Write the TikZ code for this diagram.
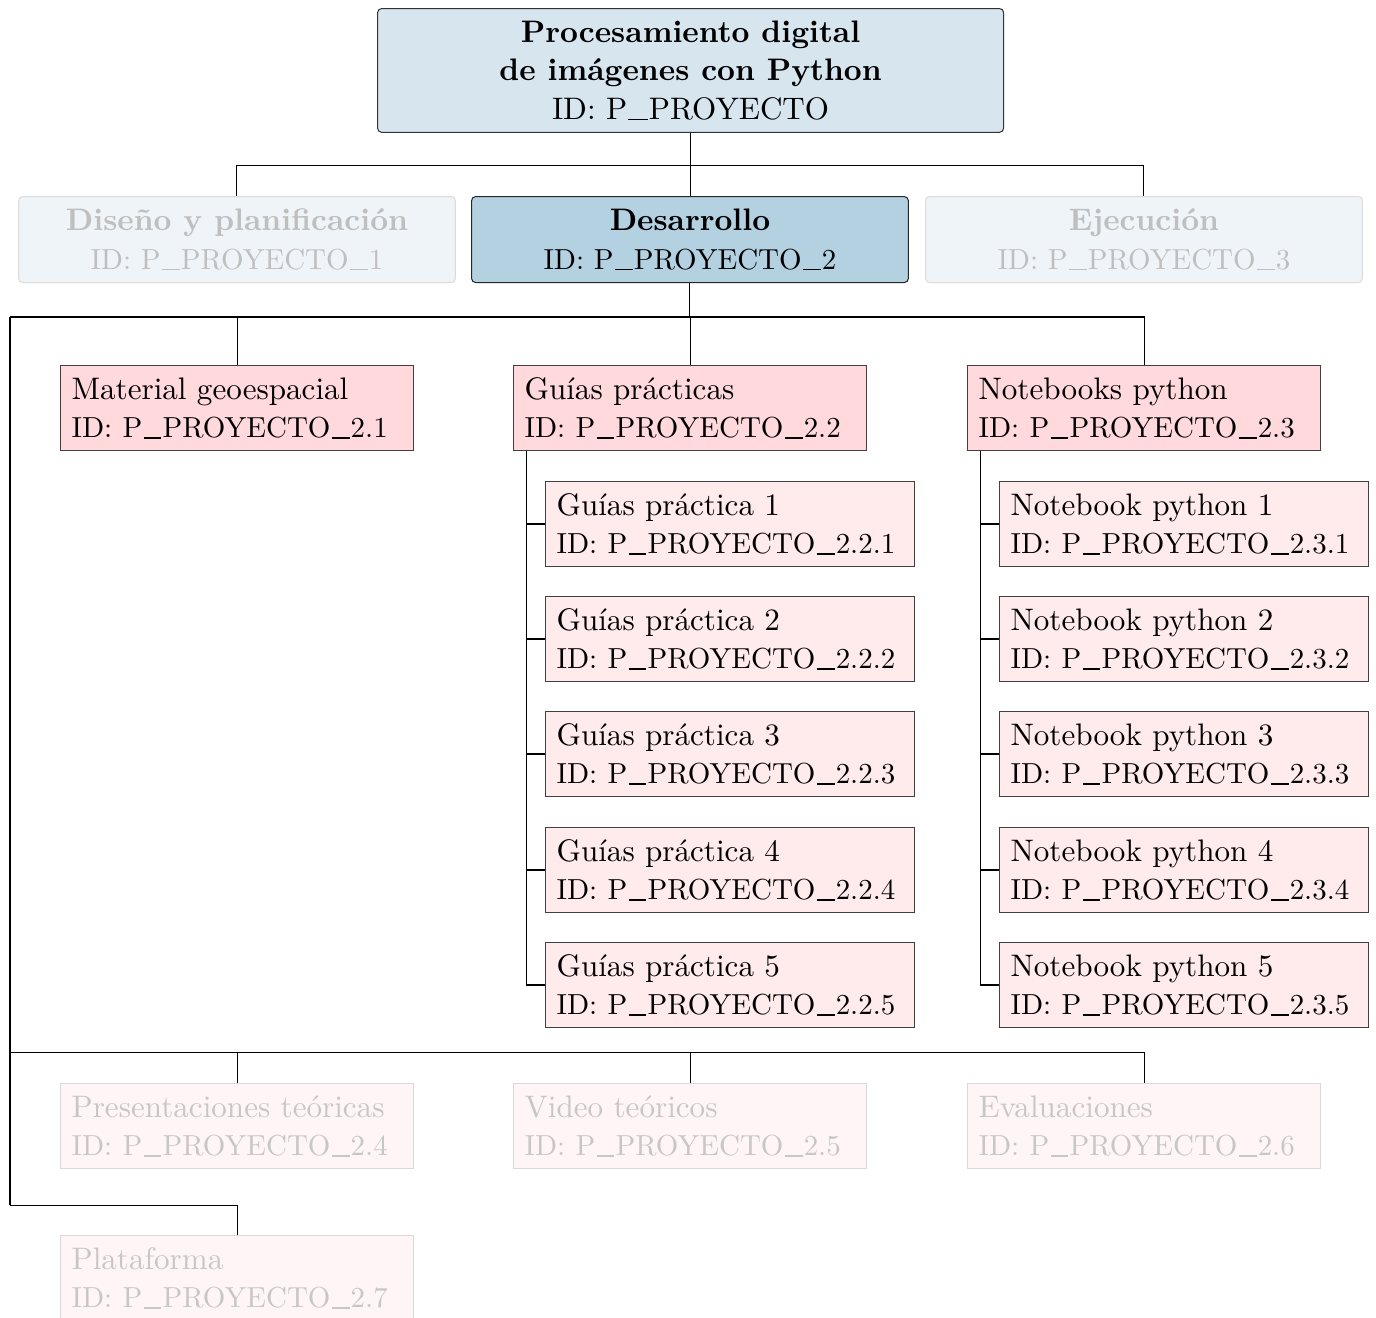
\documentclass[tikz,border=0pt]{standalone}
\usepackage{fontspec}
\usepackage{tikz}
\usetikzlibrary{positioning}
\definecolor{rootblue}{RGB}{215,229,239}
\definecolor{devblue}{RGB}{179,209,225}
\definecolor{fadeblue}{RGB}{239,244,248}
\definecolor{taskpink}{RGB}{255,217,220}
\definecolor{subpink}{RGB}{255,235,236}
\definecolor{fadepink}{RGB}{255,245,246}
% guion bajo e identificadores
\newcommand{\us}{\kern.04em\rule[-.3pt]{.62em}{.45pt}\kern.04em}
\newcommand{\idtxt}[1]{{\fontsize{10.2}{13.6}\selectfont ID:~P\us PROYECTO\us #1}}
\tikzset{
    % caja del proyecto
    rootbox/.style={
        draw=black!80, fill=rootblue, rounded corners=1.5pt,
        align=center, anchor=north west,
        minimum width=220.4pt, minimum height=43.6pt,
        font=\fontsize{10.95}{13.6}\selectfont
    },
    % fases
    phasebox/.style={
        draw=black!85, fill=devblue, rounded corners=1.5pt,
        align=center, anchor=north west,
        minimum width=153.8pt, minimum height=30.3pt,
        font=\fontsize{10.95}{13.6}\selectfont
    },
    phasefade/.style={
        phasebox, draw=black!14, fill=fadeblue, text=black!25
    },
    % entregables
    taskbox/.style={
        draw=black!75, fill=taskpink, align=left, anchor=north west,
        inner xsep=3.9pt, text width=116.5pt, minimum height=29.9pt,
        font=\fontsize{10.95}{13.6}\selectfont
    },
    taskfade/.style={
        taskbox, draw=black!15, fill=fadepink, text=black!22
    },
    subbox/.style={
        taskbox, fill=subpink, text width=122.1pt
    }
}
\begin{document}
\begin{tikzpicture}[x=0.352pt,y=-0.352pt,line width=0.36pt]
    \useasboundingbox (0,0) rectangle (1376,1317);
    % nivel 0
    \node[rootbox] (root) at (377,8)
        {\textbf{Procesamiento digital}\\\textbf{de imágenes con Python}\\ID:~P\us PROYECTO};
    % nivel 1
    \node[phasefade] (dis) at (18,196) {\textbf{Diseño y planificación}\\\idtxt{1}};
    \node[phasebox] (dev) at (471,196) {\textbf{Desarrollo}\\\idtxt{2}};
    \node[phasefade] (eje) at (925,196) {\textbf{Ejecución}\\\idtxt{3}};
    % nivel 2
    \node[taskbox] (mat) at (60,365) {Material geoespacial\\\idtxt{2.1}};
    \node[taskbox] (gui) at (513,365) {Guías prácticas\\\idtxt{2.2}};
    \node[taskbox] (nb) at (967,365) {Notebooks python\\\idtxt{2.3}};
    \node[taskfade] (pres) at (60,1083) {Presentaciones teóricas\\\idtxt{2.4}};
    \node[taskfade] (vid) at (513,1083) {Video teóricos\\\idtxt{2.5}};
    \node[taskfade] (eva) at (967,1083) {Evaluaciones\\\idtxt{2.6}};
    \node[taskfade] (plat) at (60,1235) {Plataforma\\\idtxt{2.7}};
    % nivel 3
    \node[subbox] (g1) at (545,481) {Guías práctica 1\\\idtxt{2.2.1}};
    \node[subbox] (g2) at (545,596) {Guías práctica 2\\\idtxt{2.2.2}};
    \node[subbox] (g3) at (545,711) {Guías práctica 3\\\idtxt{2.2.3}};
    \node[subbox] (g4) at (545,827) {Guías práctica 4\\\idtxt{2.2.4}};
    \node[subbox] (g5) at (545,942) {Guías práctica 5\\\idtxt{2.2.5}};
    \node[subbox] (n1) at (999,481) {Notebook python 1\\\idtxt{2.3.1}};
    \node[subbox] (n2) at (999,596) {Notebook python 2\\\idtxt{2.3.2}};
    \node[subbox] (n3) at (999,711) {Notebook python 3\\\idtxt{2.3.3}};
    \node[subbox] (n4) at (999,827) {Notebook python 4\\\idtxt{2.3.4}};
    \node[subbox] (n5) at (999,942) {Notebook python 5\\\idtxt{2.3.5}};

    % conexiones
    \draw (root.south) -- ++(0,33) coordinate (top);
    \draw (top) -| (dis.north);
    \draw (top) -| (eje.north);
    \draw (top) -- (top |- dev.north);
    \coordinate (busa) at (10,317);
    \coordinate (busb) at (10,1052);
    \coordinate (busc) at (10,1205);
    \draw (dev.south) |- (busa);
    \draw (busa) -- (busc);
    \draw (busa) -| (mat.north);
    \draw (busa) -| (gui.north);
    \draw (busa) -| (nb.north);
    \draw (busb) -| (pres.north);
    \draw (busb) -| (vid.north);
    \draw (busb) -| (eva.north);
    \draw (busc) -| (plat.north);
    \coordinate (gtrunk) at ([xshift=4.9pt]gui.south west);
    \coordinate (ntrunk) at ([xshift=4.9pt]nb.south west);
    \draw (gtrunk) |- (g1.west);
    \draw (gtrunk) |- (g2.west);
    \draw (gtrunk) |- (g3.west);
    \draw (gtrunk) |- (g4.west);
    \draw (gtrunk) |- (g5.west);
    \draw (ntrunk) |- (n1.west);
    \draw (ntrunk) |- (n2.west);
    \draw (ntrunk) |- (n3.west);
    \draw (ntrunk) |- (n4.west);
    \draw (ntrunk) |- (n5.west);
\end{tikzpicture}
\end{document}
